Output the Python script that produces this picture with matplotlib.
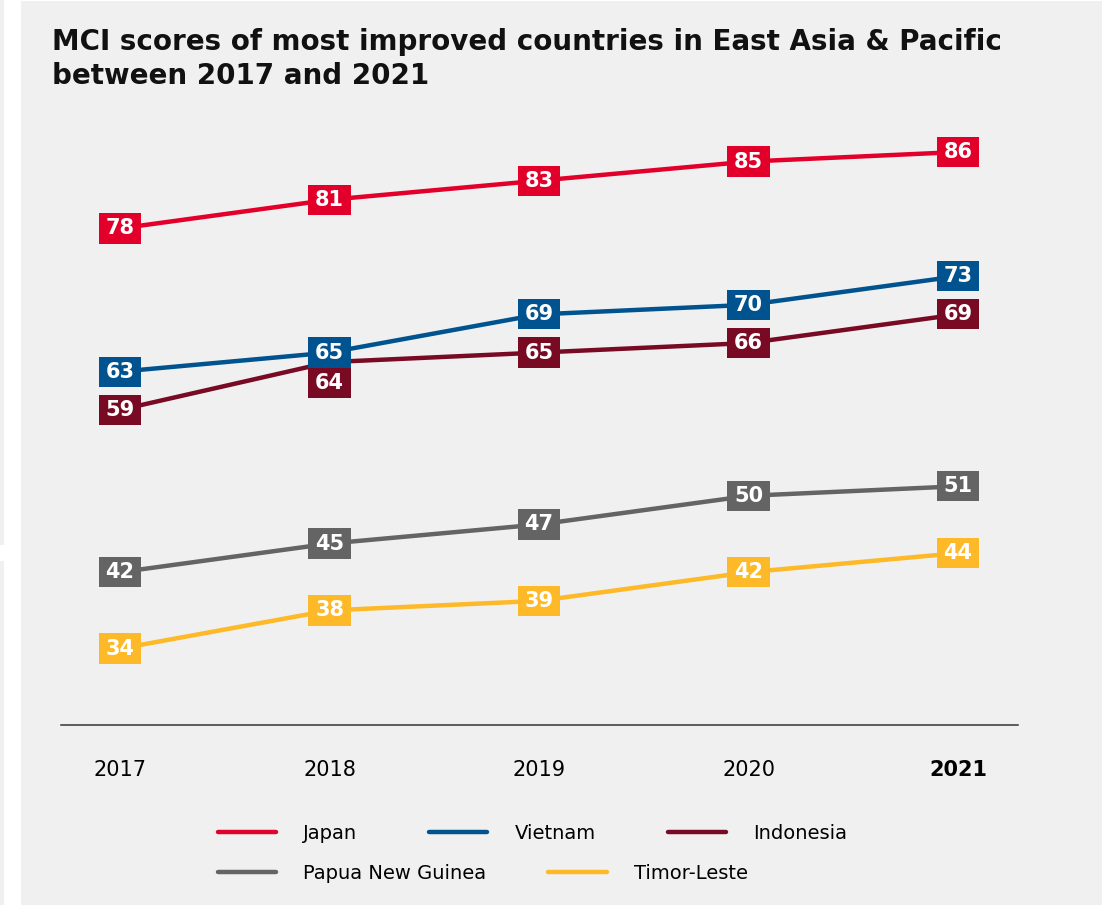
import matplotlib
matplotlib.use("Agg")
import matplotlib.pyplot as plt
from matplotlib.patches import Rectangle
from matplotlib.path import Path
from matplotlib.transforms import Affine2D

# Data
years = [2017, 2018, 2019, 2020, 2021]
japan = [78, 81, 83, 85, 86]
vietnam = [63, 65, 69, 70, 73]
indonesia = [59, 64, 65, 66, 69]
png = [42, 45, 47, 50, 51]
timor = [34, 38, 39, 42, 44]

series = [
    ("Japan", japan, "#e2002b"),
    ("Vietnam", vietnam, "#00538e"),
    ("Indonesia", indonesia, "#780a24"),
    ("Papua New Guinea", png, "#646464"),
    ("Timor-Leste", timor, "#fdb927"),
]

# label nudges (points) to keep boxes from overlapping
label_nudge = {("Indonesia", 2018): -15}

panel = "#f0f0f0"

fig = plt.figure(figsize=(11.02, 9.05), dpi=100, facecolor="white")
# grey panel and thin strips on the left edge
fig.patches.append(Rectangle((21 / 1102, 0), 1, 1 - 1 / 905, transform=fig.transFigure,
                             facecolor=panel, edgecolor="none", zorder=-10))
fig.patches.append(Rectangle((0, 1 - 545 / 905), 4 / 1102, 545 / 905, transform=fig.transFigure,
                             facecolor=panel, edgecolor="none", zorder=-10))
fig.patches.append(Rectangle((0, 0), 4 / 1102, 1 - 561 / 905, transform=fig.transFigure,
                             facecolor=panel, edgecolor="none", zorder=-10))

ax = fig.add_axes([61 / 1102, 1 - 725 / 905, 957 / 1102, 615 / 905])
ax.set_facecolor("none")
ax.set_xlim(2016.718, 2021.286)
ax.set_ylim(26.0, 90.4)


def fixed_box(x0, y0, width, height, mutation_size):
    # fixed size label box centred on the text
    cx = x0 + width / 2
    cy = y0 + height / 2
    w = 2.05 * mutation_size
    h = 1.45 * mutation_size
    return Path.unit_rectangle().transformed(
        Affine2D().scale(w, h).translate(cx - w / 2, cy - h / 2))


for name, vals, col in series:
    ax.plot(years, vals, color=col, lw=3.2, solid_capstyle="round", label=name, zorder=2)
    for x, v in zip(years, vals):
        dy = label_nudge.get((name, x), 0)
        ax.annotate(str(v), (x, v), xytext=(0, dy), textcoords="offset points",
                    ha="center", va="center", color="white", fontsize=15,
                    fontweight="bold", zorder=4,
                    bbox=dict(boxstyle=fixed_box, facecolor=col, edgecolor="none"))

for s in ["top", "right", "left"]:
    ax.spines[s].set_visible(False)
ax.spines["bottom"].set_color("#333333")
ax.spines["bottom"].set_linewidth(1.1)
ax.set_yticks([])
ax.set_xticks(years)
ax.set_xticklabels([str(y) for y in years])
ax.tick_params(axis="x", length=0, pad=25, labelsize=15, labelcolor="black")
ax.get_xticklabels()[-1].set_fontweight("bold")

fig.text(52 / 1102, 1 - 50 / 905, "MCI scores of most improved countries in East Asia & Pacific",
         fontsize=20, fontweight="bold", va="baseline", ha="left", color="#111111")
fig.text(52 / 1102, 1 - 84 / 905, "between 2017 and 2021",
         fontsize=20, fontweight="bold", va="baseline", ha="left", color="#111111")

handles, labels = ax.get_legend_handles_labels()
fig.legend(handles[:3], labels[:3], loc="center left",
           bbox_to_anchor=(200 / 1102, 1 - 833 / 905), ncol=3, frameon=False,
           fontsize=14, handlelength=3.0, handletextpad=1.4, columnspacing=3.7)
fig.legend(handles[3:], labels[3:], loc="center left",
           bbox_to_anchor=(200 / 1102, 1 - 873 / 905), ncol=2, frameon=False,
           fontsize=14, handlelength=3.0, handletextpad=1.4, columnspacing=3.2)

fig.savefig("out.png", dpi=100, facecolor=fig.get_facecolor())
